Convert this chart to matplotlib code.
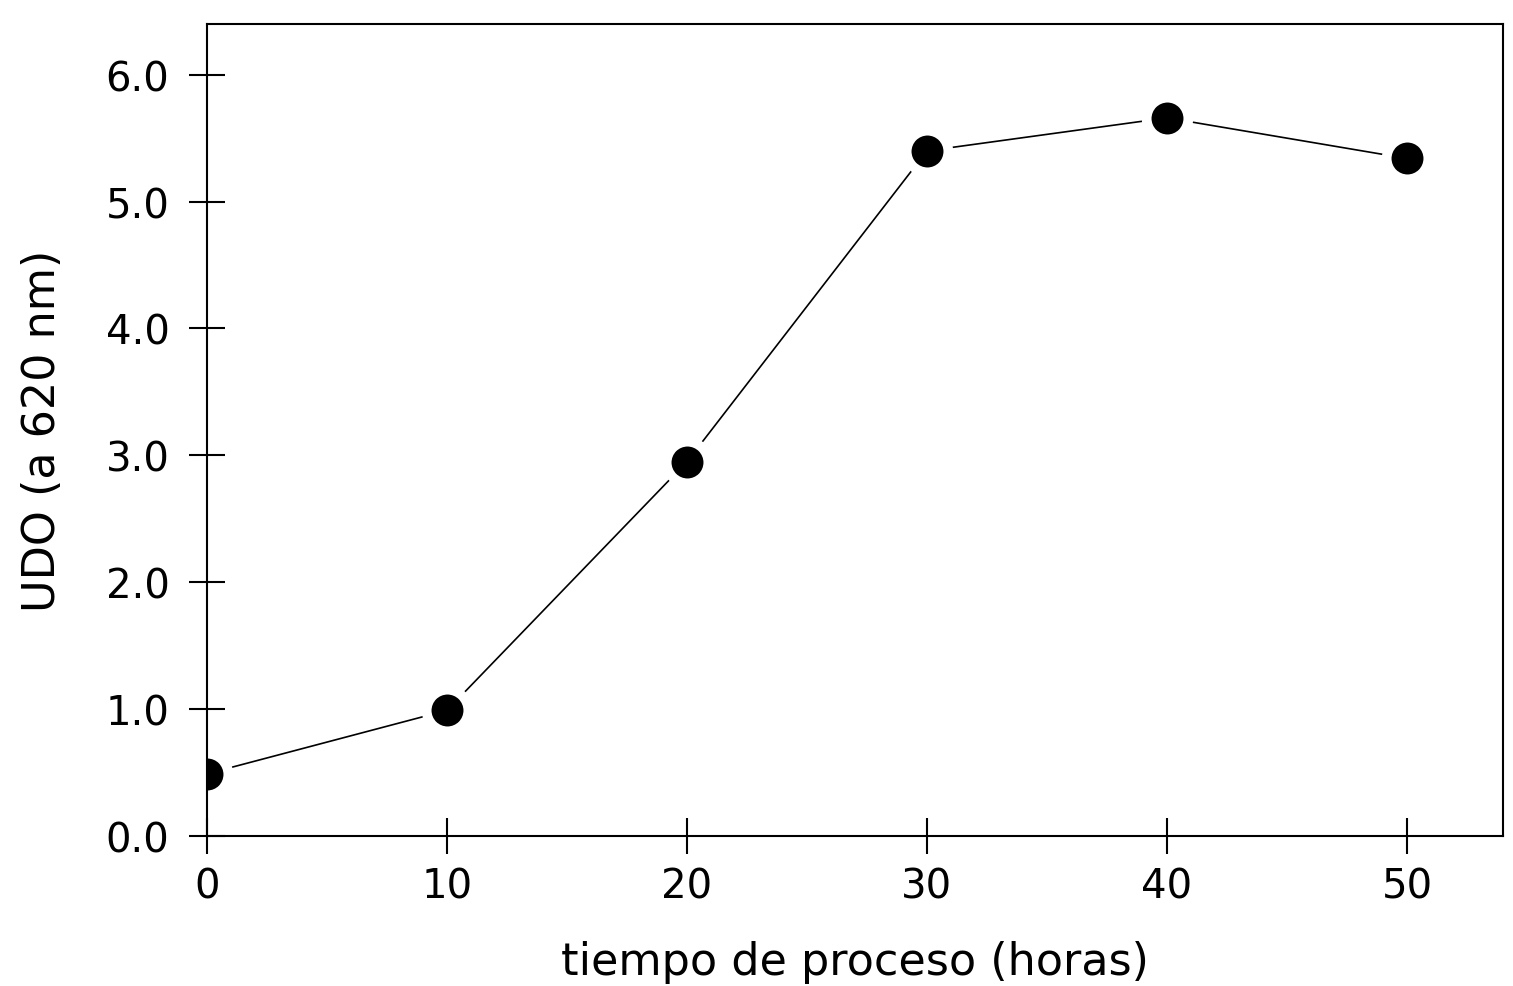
import matplotlib.pyplot as plt

# tiempo (horas) vs UDO a 620 nm
horas = [0, 10, 20, 30, 40, 50]
udo = [0.49, 0.99, 2.95, 5.40, 5.66, 5.34]

x_ticks = [0, 10, 20, 30, 40, 50]
y_ticks = [0.0, 1.0, 2.0, 3.0, 4.0, 5.0, 6.0]

plt.rcParams['font.family'] = ['DejaVu Sans']

fig = plt.figure(figsize=(15.13, 9.87), dpi=100)
ax = fig.add_axes([0.1368, 0.152, 0.8566, 0.8227])

ax.plot(horas, udo, color='black', linewidth=1.2, marker='o', markersize=30,
        markerfacecolor='black', markeredgecolor='white', markeredgewidth=7)

ax.set_xlim(0, 54)
ax.set_ylim(0, 6.4)
ax.set_xticks(x_ticks)
ax.set_xticklabels([str(t) for t in x_ticks])
ax.set_yticks(y_ticks)
ax.set_yticklabels([f'{t:.1f}' for t in y_ticks])

ax.tick_params(direction='inout', length=26, width=1.5, labelsize=29)
ax.tick_params(axis='y', pad=14)
ax.tick_params(axis='x', pad=9)
for s in ax.spines.values():
    s.set_linewidth(1.5)

ax.set_xlabel('tiempo de proceso (horas)', fontsize=32, labelpad=24)
ax.set_ylabel('UDO (a 620 nm)', fontsize=32, labelpad=30)

fig.savefig('out.png', dpi=100)
